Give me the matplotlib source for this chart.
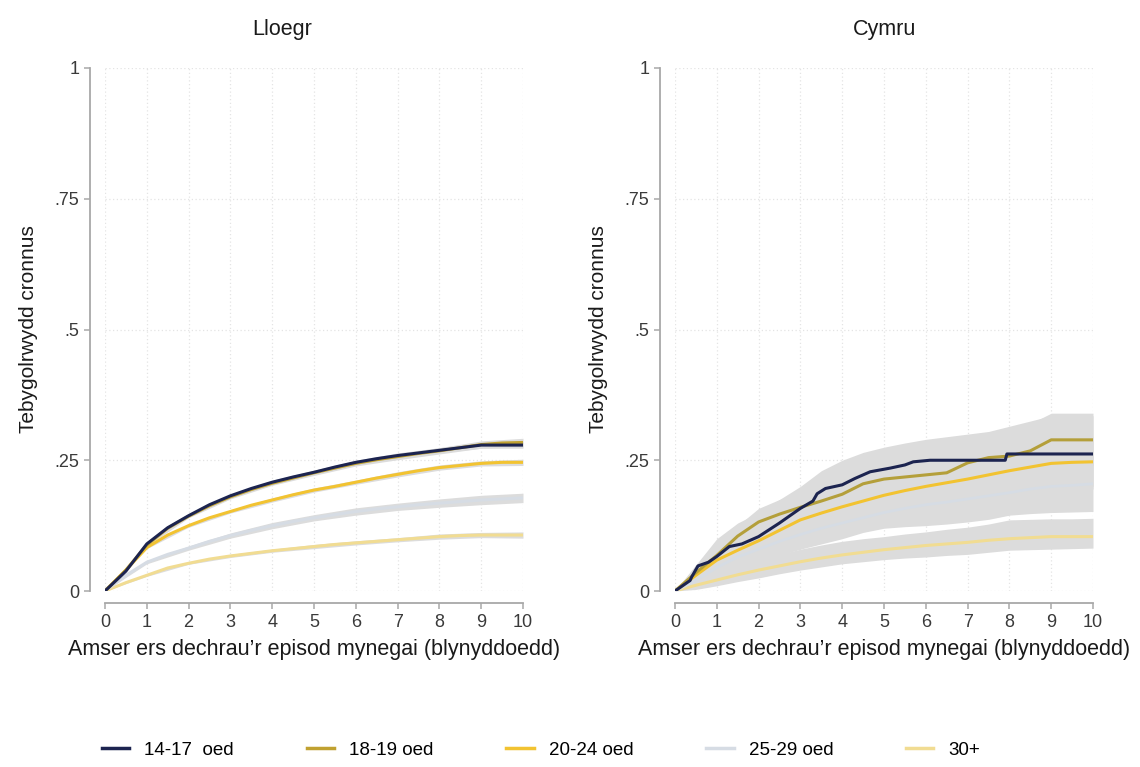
import matplotlib
matplotlib.use("Agg")
import matplotlib.pyplot as plt
from matplotlib.lines import Line2D

plt.rcParams['font.family'] = ['Liberation Sans', 'DejaVu Sans']

# ---------------- data ----------------
labels = ["14-17  oed", "18-19 oed", "20-24 oed", "25-29 oed", "30+"]
colors = ["#1c2450", "#c0a130", "#f2c331", "#d6dce4", "#f1dc92"]

t_grid = [0, 0.5, 1, 1.5, 2, 2.5, 3, 3.5, 4, 4.5, 5, 5.5, 6, 6.5, 7, 7.5, 8, 8.5, 9, 9.5, 10]
t_ci = [0, 1, 2, 3, 4, 5, 6, 7, 8, 9, 10]

# Lloegr (England)
eng_1417 = [0, 0.038, 0.09, 0.121, 0.144, 0.165, 0.182, 0.196, 0.208, 0.218, 0.227, 0.237, 0.246, 0.253, 0.259, 0.264, 0.269, 0.274, 0.279, 0.279, 0.279]
eng_1819 = [0, 0.040, 0.088, 0.120, 0.143, 0.163, 0.180, 0.194, 0.206, 0.216, 0.226, 0.235, 0.244, 0.251, 0.257, 0.263, 0.268, 0.274, 0.280, 0.283, 0.284]
eng_2024 = [0, 0.040, 0.083, 0.107, 0.125, 0.140, 0.152, 0.164, 0.174, 0.184, 0.193, 0.200, 0.208, 0.216, 0.223, 0.230, 0.236, 0.240, 0.244, 0.246, 0.246]
eng_2529 = [0, 0.030, 0.055, 0.070, 0.082, 0.095, 0.106, 0.116, 0.125, 0.133, 0.140, 0.146, 0.152, 0.157, 0.161, 0.165, 0.168, 0.171, 0.174, 0.176, 0.178]
eng_30 = [0, 0.016, 0.030, 0.044, 0.053, 0.061, 0.067, 0.072, 0.077, 0.081, 0.085, 0.089, 0.092, 0.095, 0.098, 0.101, 0.104, 0.106, 0.107, 0.107, 0.107]

eng_hw_1417 = [0, .002, .003, .003, .004, .004, .004, .005, .005, .006, .006]
eng_hw_1819 = [0, .002, .003, .004, .004, .005, .005, .006, .006, .007, .008]
eng_hw_2024 = [0, .002, .003, .003, .004, .004, .004, .005, .005, .005, .006]
eng_hw_2529 = [0, .003, .004, .005, .006, .006, .007, .007, .008, .009, .009]
eng_hw_30 = [0, .002, .002, .003, .003, .004, .004, .004, .005, .005, .006]

# Cymru (Wales)
wal_t_1417 = [0, 0.36, 0.4, 0.55, 0.8, 1.0, 1.3, 1.6, 2.0, 2.5, 3.0, 3.3, 3.4, 3.6, 4.0, 4.3, 4.67, 5.15, 5.5, 5.7, 6.1, 7.9, 7.94, 10]
wal_1417 = [0.0, 0.02, 0.027, 0.048, 0.055, 0.066, 0.085, 0.09, 0.104, 0.13, 0.158, 0.172, 0.186, 0.196, 0.203, 0.215, 0.228, 0.235, 0.241, 0.247, 0.25, 0.25, 0.262, 0.262]
wal_1819 = [0, 0.035, 0.068, 0.105, 0.132, 0.147, 0.160, 0.172, 0.185, 0.205, 0.214, 0.218, 0.222, 0.226, 0.245, 0.255, 0.258, 0.268, 0.289, 0.289, 0.289]
wal_2024 = [0, 0.030, 0.059, 0.078, 0.096, 0.116, 0.136, 0.149, 0.161, 0.172, 0.183, 0.192, 0.200, 0.207, 0.214, 0.222, 0.230, 0.237, 0.244, 0.246, 0.247]
wal_2529 = [0, 0.020, 0.045, 0.065, 0.080, 0.095, 0.108, 0.120, 0.130, 0.140, 0.150, 0.158, 0.165, 0.170, 0.176, 0.182, 0.188, 0.195, 0.200, 0.202, 0.205]
wal_30 = [0, 0.011, 0.021, 0.031, 0.040, 0.048, 0.056, 0.063, 0.069, 0.074, 0.079, 0.083, 0.087, 0.090, 0.093, 0.097, 0.100, 0.102, 0.104, 0.104, 0.104]

wal_lo_1417 = [0, 0.012, 0.035, 0.055, 0.070, 0.090, 0.110, 0.125, 0.140, 0.150, 0.160, 0.165, 0.170, 0.175, 0.180, 0.185, 0.190, 0.195, 0.195, 0.195, 0.195]
wal_hi_1417 = [0, 0.050, 0.100, 0.130, 0.150, 0.175, 0.200, 0.230, 0.250, 0.265, 0.275, 0.283, 0.290, 0.295, 0.300, 0.305, 0.315, 0.325, 0.335, 0.335, 0.335]
wal_lo_1819 = [0, 0.020, 0.045, 0.075, 0.100, 0.115, 0.125, 0.135, 0.145, 0.160, 0.170, 0.175, 0.178, 0.182, 0.195, 0.205, 0.210, 0.220, 0.240, 0.240, 0.240]
wal_hi_1819 = [0, 0.050, 0.090, 0.125, 0.158, 0.175, 0.190, 0.212, 0.231, 0.254, 0.265, 0.275, 0.283, 0.286, 0.289, 0.295, 0.305, 0.320, 0.340, 0.340, 0.340]
wal_lo_2024 = [0, 0.020, 0.045, 0.060, 0.075, 0.093, 0.110, 0.120, 0.130, 0.140, 0.150, 0.157, 0.164, 0.170, 0.176, 0.182, 0.190, 0.196, 0.200, 0.200, 0.200]
wal_hi_2024 = [0, 0.040, 0.075, 0.098, 0.118, 0.140, 0.162, 0.178, 0.192, 0.205, 0.216, 0.226, 0.236, 0.244, 0.252, 0.262, 0.270, 0.278, 0.288, 0.292, 0.294]
wal_lo_2529 = [0, 0.012, 0.030, 0.043, 0.055, 0.068, 0.080, 0.090, 0.100, 0.112, 0.120, 0.123, 0.125, 0.128, 0.132, 0.137, 0.145, 0.148, 0.150, 0.151, 0.152]
wal_hi_2529 = [0, 0.040, 0.075, 0.100, 0.120, 0.135, 0.150, 0.163, 0.175, 0.185, 0.195, 0.203, 0.210, 0.218, 0.225, 0.232, 0.240, 0.245, 0.250, 0.255, 0.260]
wal_lo_30 = [0, 0.003, 0.010, 0.018, 0.025, 0.033, 0.040, 0.046, 0.052, 0.056, 0.060, 0.063, 0.065, 0.068, 0.070, 0.074, 0.078, 0.079, 0.080, 0.081, 0.082]
wal_hi_30 = [0, 0.022, 0.040, 0.050, 0.060, 0.070, 0.080, 0.088, 0.095, 0.100, 0.104, 0.109, 0.113, 0.118, 0.122, 0.128, 0.136, 0.137, 0.138, 0.138, 0.139]

titles = ["Lloegr", "Cymru"]
xlabel = "Amser ers dechrau\u2019r episod mynegai (blynyddoedd)"
ylabel = "Tebygolrwydd cronnus"
yticks = [0, 0.25, 0.5, 0.75, 1]
yticklabels = ["0", ".25", ".5", ".75", "1"]
xticks = list(range(0, 11))

# ---------------- figure ----------------
fig = plt.figure(figsize=(11.4, 7.67), dpi=100)
axL = fig.add_axes([105/1140, 1-591/767, 418/1140, 523/767])
axR = fig.add_axes([675/1140, 1-591/767, 418/1140, 523/767])

band_col = "#dcdcdc"
spine_col = "#a8a8a8"

def style(ax):
    ax.set_xlim(0, 10)
    ax.set_ylim(0, 1)
    for s in ["top", "right"]:
        ax.spines[s].set_visible(False)
    ax.spines["left"].set_position(("outward", 10.5))
    ax.spines["bottom"].set_position(("outward", 8.5))
    ax.spines["left"].set_bounds(0, 1)
    ax.spines["bottom"].set_bounds(0, 10)
    for s in ["left", "bottom"]:
        ax.spines[s].set_color(spine_col)
        ax.spines[s].set_linewidth(1.3)
    ax.set_yticks(yticks)
    ax.set_yticklabels(yticklabels)
    ax.set_xticks(xticks)
    ax.tick_params(axis="both", colors=spine_col, labelcolor="#3a3a3a",
                   labelsize=13, length=4, width=1.1, pad=4)
    ax.grid(True, color="#e4e4e4", linestyle=(0, (1, 2)), linewidth=0.9)
    ax.set_axisbelow(True)
    ax.set_xlabel(xlabel, fontsize=15.5, color="#1a1a1a", labelpad=6)
    ax.set_ylabel(ylabel, fontsize=15, color="#1a1a1a", labelpad=12)

# England
eng_series = [eng_1417, eng_1819, eng_2024, eng_2529, eng_30]
eng_hw = [eng_hw_1417, eng_hw_1819, eng_hw_2024, eng_hw_2529, eng_hw_30]
for ser, hw in zip(eng_series, eng_hw):
    mid = [ser[2 * i] for i in range(len(t_ci))]
    axL.fill_between(t_ci, [m - h for m, h in zip(mid, hw)], [m + h for m, h in zip(mid, hw)],
                     color=band_col, linewidth=0)
for ser, c in reversed(list(zip(eng_series, colors))):
    axL.plot(t_grid, ser, color=c, linewidth=2.2)
style(axL)

# Wales
wal_bands = [(wal_lo_1417, wal_hi_1417), (wal_lo_1819, wal_hi_1819), (wal_lo_2024, wal_hi_2024),
             (wal_lo_2529, wal_hi_2529), (wal_lo_30, wal_hi_30)]
for lo, hi in wal_bands:
    axR.fill_between(t_grid, lo, hi, color=band_col, linewidth=0)
axR.plot(t_grid, wal_30, color=colors[4], linewidth=2.2)
axR.plot(t_grid, wal_2529, color=colors[3], linewidth=2.0)
axR.plot(t_grid, wal_2024, color=colors[2], linewidth=2.2)
axR.plot(t_grid, wal_1819, color="#b49f3a", linewidth=2.2)
axR.plot(wal_t_1417, wal_1417, color=colors[0], linewidth=2.2)
style(axR)

fig.text(282/1140, 1-29/767, titles[0], ha="center", va="center", fontsize=15.5, color="#1a1a1a")
fig.text(885/1140, 1-29/767, titles[1], ha="center", va="center", fontsize=15.5, color="#1a1a1a")

handles = [Line2D([], [], color=c, linewidth=2.5) for c in colors]
fig.legend(handles, labels, ncol=5, loc="center", bbox_to_anchor=(541/1140, 1-750/767),
           frameon=False, fontsize=13.5, handlelength=1.45, columnspacing=3.9, handletextpad=0.8)

fig.savefig("out.png", dpi=100, facecolor="white")
